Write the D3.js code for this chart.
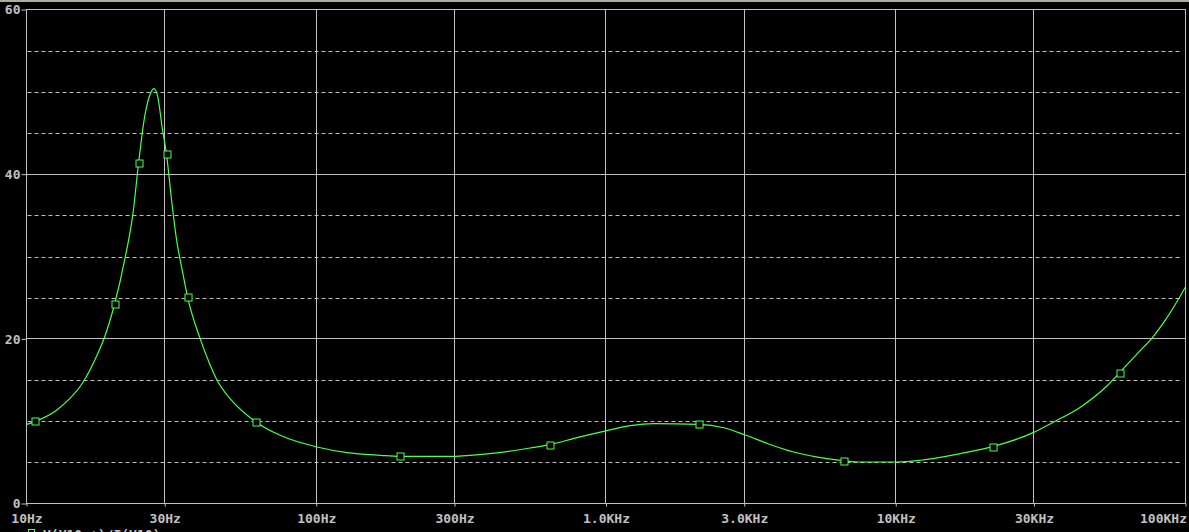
<!DOCTYPE html>
<html>
<head>
<meta charset="utf-8">
<script src="https://cdn.jsdelivr.net/npm/d3@7"></script>
<style>
  html, body { margin: 0; padding: 0; background: #000; overflow: hidden; }
  svg { display: block; }
</style>
</head>
<body>
<svg id="chart" width="1189" height="532"></svg>
<script>
// ---- data ----
const freqHz = [10, 10.74, 12.66, 14.07, 15.65, 17.4, 18.59, 20.13, 21.79, 23.3, 24.36, 25.55, 26.58, 27.53,
  28.42, 29.41, 30.43, 31.59, 32.87, 34.67, 35.96, 39.77, 42.82, 45.42, 48.91, 50.49, 61.73, 75.1, 100.6,
  127.6, 166.3, 193.9, 297.8, 340.1, 443.2, 547.8, 638.9, 794.1, 1008, 1213, 1460, 2088, 2547, 3027, 3642,
  4442, 5793, 6609, 7548, 10100, 12160, 16710, 21600, 29930, 35080, 43370, 53630, 59280, 69890, 76260,
  86420, 100000];
const magnitude = [9.6, 9.98, 11.3, 12.7, 14.7, 17.8, 20.2, 24.2, 29.5, 35.2, 41.3, 46.9, 49.5, 50.4,
  49.3, 45.6, 42.4, 37.2, 32.3, 27.9, 25.1, 20.0, 17.0, 15.0, 13.3, 12.7, 9.94, 8.28, 6.86,
  6.18, 5.85, 5.72, 5.73, 5.85, 6.25, 6.74, 7.15, 8.0, 8.85, 9.45, 9.7, 9.61, 9.2, 8.32, 7.23,
  6.25, 5.45, 5.21, 5.04, 5.04, 5.25, 6.06, 6.9, 8.64, 9.9, 11.7, 14.3, 15.9, 18.6, 20.0,
  22.6, 26.3];
const markerFreqHz = [10.74, 20.13, 24.36, 30.43, 35.96, 61.73, 193.9, 638.9, 2088, 6609, 21600, 59280];
const markerMag = [9.98, 24.2, 41.3, 42.4, 25.1, 9.94, 5.72, 7.15, 9.61, 5.21, 6.9, 15.9];
const xTickValues = [10, 30, 100, 300, 1000, 3000, 10000, 30000, 100000];
const xTickLabels = ["10Hz", "30Hz", "100Hz", "300Hz", "1.0KHz", "3.0KHz", "10KHz", "30KHz", "100KHz"];
const yTickValues = [0, 20, 40, 60];
const yMinorGrid = [5, 10, 15, 25, 30, 35, 45, 50, 55];
const legendLabel = "V(V10:+)/I(V10)";

(function () {
// ---- layout ----
const svg = d3.select("#chart");
const W = 1189, H = 532;
const pL = 26.5, pR = 1185.5, pT = 9.5, pB = 503.5;
const grey = "#c0c0c0";
const green = "#4cff4c";
const font = "'DejaVu Sans Mono', 'Liberation Mono', monospace";

svg.append("rect").attr("width", W).attr("height", H).attr("fill", "#000");
svg.append("rect").attr("x", 0).attr("y", 0).attr("width", W).attr("height", 2).attr("fill", "#b0aca0");

const x = d3.scaleLog().domain([10, 100000]).range([pL, pR]);
const y = d3.scaleLinear().domain([0, 60]).range([pB, pT]);

// minor dashed horizontal grid
svg.append("g").selectAll("line").data(yMinorGrid).join("line")
  .attr("x1", pL + 1).attr("x2", pR - 3)
  .attr("y1", d => Math.round(y(d)) + 0.5).attr("y2", d => Math.round(y(d)) + 0.5)
  .attr("stroke", grey).attr("stroke-width", 1).attr("stroke-dasharray", "4,3");

// major solid horizontal grid
svg.append("g").selectAll("line").data(yTickValues).join("line")
  .attr("x1", pL).attr("x2", pR)
  .attr("y1", d => Math.round(y(d) - 0.5) + 0.5).attr("y2", d => Math.round(y(d) - 0.5) + 0.5)
  .attr("stroke", grey).attr("stroke-width", 1);

// vertical solid grid
svg.append("g").selectAll("line").data(xTickValues).join("line")
  .attr("x1", d => Math.round(x(d) - 0.5) + 0.5).attr("x2", d => Math.round(x(d) - 0.5) + 0.5)
  .attr("y1", pT).attr("y2", pB)
  .attr("stroke", grey).attr("stroke-width", 1);

// axes
const xAxis = d3.axisBottom(x).tickValues(xTickValues)
  .tickFormat((d, i) => xTickLabels[i]).tickSize(3).tickPadding(7);
const gx = svg.append("g").attr("transform", `translate(0,${pB})`).call(xAxis);
gx.select(".domain").remove();
gx.selectAll(".tick line").attr("stroke", grey);
gx.selectAll(".tick text").attr("fill", grey).attr("font-family", font)
  .attr("font-size", 13).attr("font-weight", "bold")
  .attr("text-anchor", (d, i) => i === xTickValues.length - 1 ? "end" : "middle")
  .attr("dx", (d, i) => i === xTickValues.length - 1 ? 1 : 0);

const yAxis = d3.axisLeft(y).tickValues(yTickValues).tickFormat(d3.format("d"))
  .tickSize(5).tickPadding(1);
const gy = svg.append("g").attr("transform", `translate(${pL},0)`).call(yAxis);
gy.select(".domain").remove();
gy.selectAll(".tick line").attr("stroke", grey);
gy.selectAll(".tick text").attr("fill", grey).attr("font-family", font)
  .attr("font-size", 13).attr("font-weight", "bold");

// frame
svg.append("rect").attr("x", pL).attr("y", pT)
  .attr("width", pR - pL).attr("height", pB - pT)
  .attr("fill", "none").attr("stroke", grey).attr("stroke-width", 1);

// curve
svg.append("clipPath").attr("id", "clip").append("rect")
  .attr("x", pL).attr("y", pT).attr("width", pR - pL).attr("height", pB - pT);

const line = d3.line()
  .x((d, i) => x(freqHz[i]))
  .y((d, i) => y(magnitude[i]))
  .curve(d3.curveMonotoneX);

svg.append("path").datum(magnitude)
  .attr("clip-path", "url(#clip)")
  .attr("d", line)
  .attr("fill", "none").attr("stroke", green).attr("stroke-width", 1.2);

// markers
const ms = 7;
svg.append("g").selectAll("rect").data(markerFreqHz).join("rect")
  .attr("x", d => Math.round(x(d)) - ms / 2 + 0.5)
  .attr("y", (d, i) => Math.round(y(markerMag[i])) - ms / 2 + 0.5)
  .attr("width", ms).attr("height", ms)
  .attr("fill", "#000").attr("stroke", green).attr("stroke-width", 1);

// legend (cut off at the bottom like the reference)
svg.append("rect").attr("x", 28.5).attr("y", 529.5).attr("width", 6).attr("height", 6)
  .attr("fill", "none").attr("stroke", green).attr("stroke-width", 1);
svg.append("text").attr("x", 43).attr("y", 539).text(legendLabel)
  .attr("fill", grey).attr("font-family", font).attr("font-size", 13).attr("font-weight", "bold");
})();
</script>
</body>
</html>
